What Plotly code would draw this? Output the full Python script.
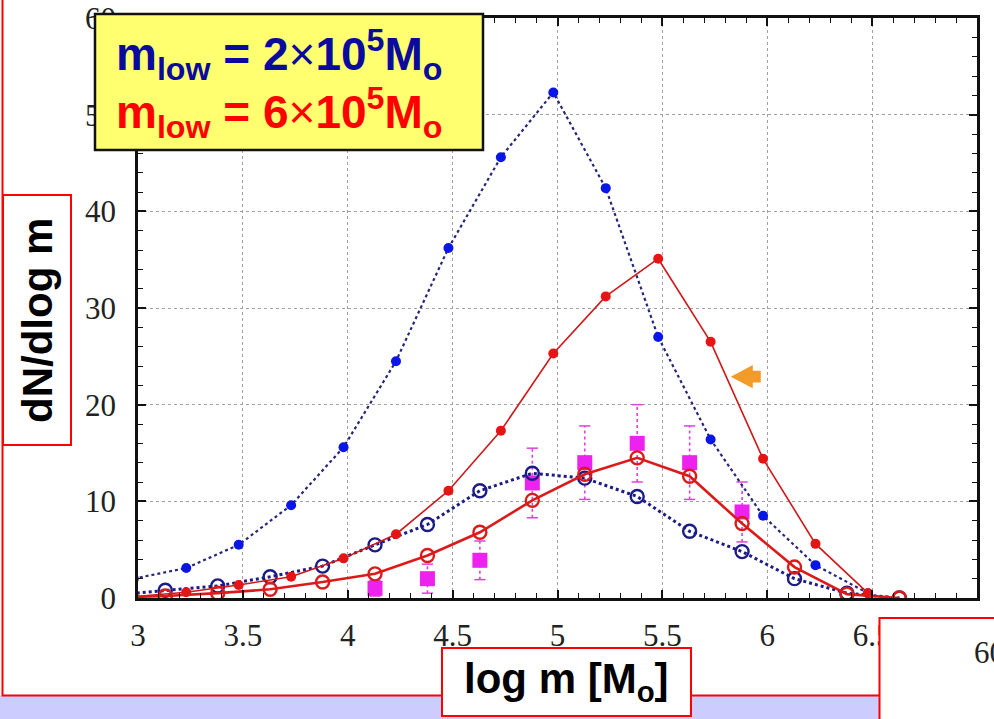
import plotly.graph_objects as go

# ---------------- data ----------------
x_fill = [2.98, 3.23, 3.48, 3.73, 3.98, 4.23, 4.48, 4.73, 4.98, 5.23, 5.48, 5.73, 5.98, 6.23, 6.48]
blue_fill = [2.0, 3.1, 5.5, 9.6, 15.6, 24.5, 36.2, 45.6, 52.3, 42.4, 27.0, 16.4, 8.5, 3.4, 0.5]
red_fill = [0.15, 0.6, 1.35, 2.2, 4.1, 6.6, 11.1, 17.3, 25.3, 31.2, 35.1, 26.5, 14.4, 5.6, 0.5]

x_open = [2.88, 3.13, 3.38, 3.63, 3.88, 4.13, 4.38, 4.63, 4.88, 5.13, 5.38, 5.63, 5.88, 6.13, 6.38, 6.63]
blue_open = [0.3, 0.8, 1.25, 2.2, 3.3, 5.5, 7.6, 11.1, 12.9, 12.4, 10.5, 6.9, 4.8, 2.0, 0.5, 0.0]
red_open = [0.05, 0.2, 0.5, 0.9, 1.65, 2.5, 4.4, 6.8, 10.1, 12.8, 14.5, 12.6, 7.7, 3.2, 0.4, 0.0]

x_obs = [4.13, 4.38, 4.63, 4.88, 5.13, 5.38, 5.63, 5.88]
obs = [1.0, 2.0, 3.9, 11.9, 14.0, 16.0, 14.0, 8.9]
obs_err = [0.8, 1.5, 2.0, 3.6, 3.8, 4.0, 3.8, 3.1]

x_ticks = [3, 3.5, 4, 4.5, 5, 5.5, 6, 6.5, 7]
x_ticklabels = ["3", "3.5", "4", "4.5", "5", "5.5", "6", "6.5", "7"]
y_ticks = [0, 10, 20, 30, 40, 50, 60]
y_ticklabels = ["0", "10", "20", "30", "40", "50", "60"]

label_line1 = "<b>m<sub>low</sub> = 2</b>×<b>10<sup>5</sup>M<sub>o</sub></b>"
label_line2 = "<b>m<sub>low</sub> = 6</b>×<b>10<sup>5</sup>M<sub>o</sub></b>"
y_title = "dN/dlog m"
x_title = "log m [M<sub>o</sub>]"
corner_text = "60"

# ---------------- layout geometry (pixels) ----------------
W, H = 994, 719
ML, MR, MT, MB = 138, 17, 18, 121
PW = W - ML - MR
PH = H - MT - MB


def fx(px):
    return (px - ML) / PW


def fy(py):
    return (H - MB - py) / PH


fig = go.Figure()

# error bars (dotted) built from the observation arrays
ex, ey = [], []
for xv, yv, ev in zip(x_obs, obs, obs_err):
    ex += [xv, xv, None]
    ey += [yv - ev, yv + ev, None]
fig.add_trace(go.Scatter(x=ex, y=ey, mode="lines",
                         line=dict(color="#e040e0", width=1.6, dash="dot"),
                         showlegend=False, hoverinfo="skip"))
cap_x = x_obs + x_obs
cap_y = [o - e for o, e in zip(obs, obs_err)] + [o + e for o, e in zip(obs, obs_err)]
fig.add_trace(go.Scatter(x=cap_x, y=cap_y, mode="markers",
                         marker=dict(symbol="line-ew", size=8,
                                     line=dict(color="#e040e0", width=1.5)),
                         showlegend=False, hoverinfo="skip"))
fig.add_trace(go.Scatter(x=x_obs, y=obs, mode="markers",
                         marker=dict(symbol="square", size=15, color="#ee22ee"),
                         showlegend=False))

# blue filled, dotted
fig.add_trace(go.Scatter(x=x_fill, y=blue_fill, mode="lines+markers",
                         line=dict(color="#26267a", width=2.2, dash="dot"),
                         marker=dict(symbol="circle", size=10, color="#0a16e6"),
                         showlegend=False))
# blue open, dotted
fig.add_trace(go.Scatter(x=x_open, y=blue_open, mode="lines+markers",
                         line=dict(color="#1c1c86", width=3, dash="dot"),
                         marker=dict(symbol="circle-open", size=13,
                                     line=dict(color="#1414d2", width=2.4)),
                         showlegend=False))
# red filled, solid thin
fig.add_trace(go.Scatter(x=x_fill, y=red_fill, mode="lines+markers",
                         line=dict(color="#d01818", width=1.6),
                         marker=dict(symbol="circle", size=10, color="#e61414"),
                         showlegend=False))
# red open, solid thick
fig.add_trace(go.Scatter(x=x_open, y=red_open, mode="lines+markers",
                         line=dict(color="#dc1a1a", width=2.6),
                         marker=dict(symbol="circle-open", size=13,
                                     line=dict(color="#e61e1e", width=2.4)),
                         showlegend=False))

serif = "Liberation Serif, Times New Roman, serif"
tickfont = dict(family=serif, size=31, color="#222222")
fig.update_xaxes(range=[3, 7], tickvals=x_ticks, ticktext=x_ticklabels,
                 showline=True, linecolor="#111111", linewidth=2.5, mirror="ticks",
                 ticks="inside", ticklen=8, tickwidth=1.5, tickcolor="#111111",
                 minor=dict(dtick=0.1, ticks="inside", ticklen=5, tickwidth=1.2,
                            tickcolor="#111111", showgrid=False),
                 showgrid=True, gridcolor="#a0a0a0", griddash="dot", gridwidth=1,
                 zeroline=False, tickfont=tickfont, ticklabelstandoff=8,
                 automargin=False)
fig.update_yaxes(range=[0, 60], tickvals=y_ticks, ticktext=y_ticklabels,
                 showline=True, linecolor="#111111", linewidth=2.5, mirror="ticks",
                 ticks="inside", ticklen=8, tickwidth=1.5, tickcolor="#111111",
                 minor=dict(dtick=2, ticks="inside", ticklen=5, tickwidth=1.2,
                            tickcolor="#111111", showgrid=False),
                 showgrid=True, gridcolor="#a0a0a0", griddash="dot", gridwidth=1,
                 zeroline=False, tickfont=tickfont, ticklabelstandoff=13,
                 automargin=False)

shapes = []
# lavender strip and red frame
shapes.append(dict(type="rect", xref="paper", yref="paper", layer="above",
                   x0=fx(0), x1=fx(880), y0=fy(H + 5), y1=fy(695.5),
                   fillcolor="#ccccff", line=dict(width=0)))
shapes.append(dict(type="path", xref="paper", yref="paper", layer="above",
                   path=f"M {fx(2.5)},{fy(-5)} L {fx(2.5)},{fy(695.5)} L {fx(880)},{fy(695.5)}",
                   line=dict(color="#ff0000", width=2)))
# y label box
shapes.append(dict(type="rect", xref="paper", yref="paper", layer="above",
                   x0=fx(3), x1=fx(71), y0=fy(445), y1=fy(195),
                   fillcolor="white", line=dict(color="#ff0000", width=2)))
# x label box
shapes.append(dict(type="rect", xref="paper", yref="paper", layer="above",
                   x0=fx(442), x1=fx(691), y0=fy(716), y1=fy(648),
                   fillcolor="white", line=dict(color="#ff0000", width=2)))
# bottom right box
shapes.append(dict(type="rect", xref="paper", yref="paper", layer="above",
                   x0=fx(879.5), x1=fx(1010), y0=fy(730), y1=fy(618),
                   fillcolor="white", line=dict(color="#ff0000", width=2)))
# yellow label box
shapes.append(dict(type="rect", xref="paper", yref="paper", layer="above",
                   x0=fx(95), x1=fx(483), y0=fy(150), y1=fy(14),
                   fillcolor="#ffff70", line=dict(color="#111111", width=2.5)))
# orange arrow (decoration)
ax_tip, ax_head, ax_tail = 5.826, 5.931, 5.969
shapes.append(dict(type="path", xref="x", yref="y", layer="above",
                   path=(f"M {ax_tip},22.9 L {ax_head},24.1 L {ax_head},23.5 "
                         f"L {ax_tail},23.5 L {ax_tail},22.3 L {ax_head},22.3 "
                         f"L {ax_head},21.7 Z"),
                   fillcolor="#f29b28", line=dict(width=0)))

annotations = []
boxfont = dict(family="Liberation Sans", size=46)
annotations.append(dict(xref="paper", yref="paper", x=fx(114), y=fy(55),
                        xanchor="left", yanchor="middle", showarrow=False,
                        text=label_line1,
                        font=dict(boxfont, color="#0a0a9e")))
annotations.append(dict(xref="paper", yref="paper", x=fx(114), y=fy(112),
                        xanchor="left", yanchor="middle", showarrow=False,
                        text=label_line2,
                        font=dict(boxfont, color="#ff0000")))
annotations.append(dict(xref="paper", yref="paper", x=fx(37), y=fy(321),
                        xanchor="center", yanchor="middle", showarrow=False,
                        textangle=-90, text=f"<b>{y_title}</b>",
                        font=dict(family="Liberation Sans", size=42, color="black")))
annotations.append(dict(xref="paper", yref="paper", x=fx(566), y=fy(681),
                        xanchor="center", yanchor="middle", showarrow=False,
                        text=f"<b>{x_title}</b>",
                        font=dict(family="Liberation Sans", size=42, color="black")))
annotations.append(dict(xref="paper", yref="paper", x=fx(972), y=fy(652),
                        xanchor="left", yanchor="middle", showarrow=False,
                        text=corner_text, font=dict(family=serif, size=31,
                                                    color="#222222")))

fig.update_layout(width=W, height=H, autosize=False,
                  margin=dict(l=ML, r=MR, t=MT, b=MB),
                  paper_bgcolor="white", plot_bgcolor="white",
                  shapes=shapes, annotations=annotations, showlegend=False)

fig.write_html("out.html")
